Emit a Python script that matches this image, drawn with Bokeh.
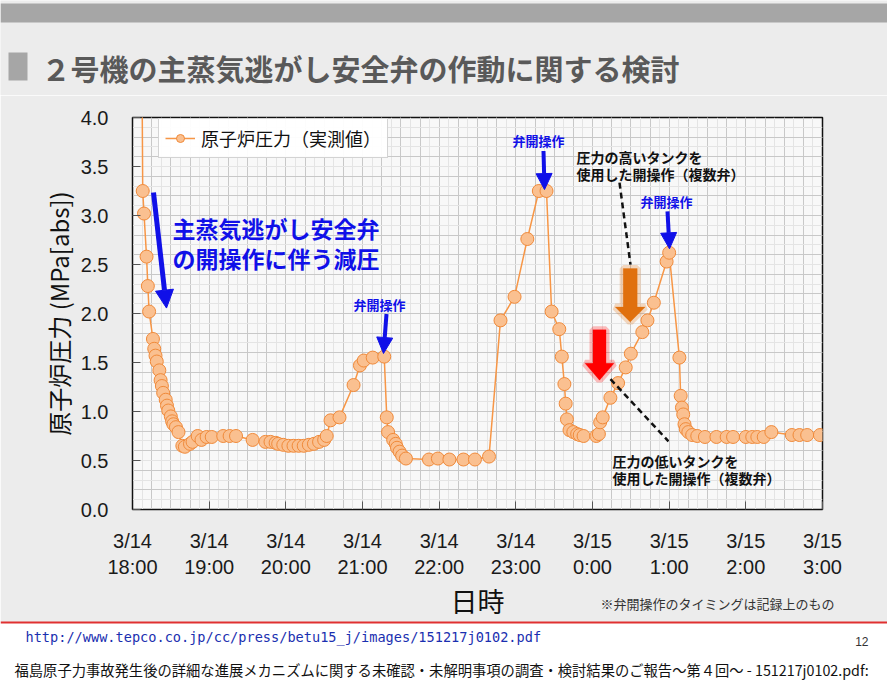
from bokeh.plotting import figure
from bokeh.layouts import column, row
from bokeh.core.properties import value
from bokeh.models import (ColumnDataSource, FixedTicker, NumeralTickFormatter, Label,
                          Arrow, NormalHead, PolyAnnotation, Legend, Range1d)
from bokeh.embed import file_html
from bokeh.resources import INLINE

# reactor pressure (measured), unit 2, 3/14 18:00 - 3/15 3:00
times = [
    "18:07", "18:08", "18:09", "18:11", "18:12", "18:13", "18:16", "18:17", "18:18", "18:19",
    "18:21", "18:22", "18:23", "18:24", "18:26", "18:27", "18:28", "18:30", "18:31", "18:32",
    "18:34", "18:36", "18:39", "18:41", "18:45", "18:47", "18:51", "18:54", "18:58", "19:02",
    "19:11", "19:16", "19:21", "19:34", "19:44", "19:48", "19:52", "19:54", "19:58", "20:02",
    "20:06", "20:10", "20:14", "20:18", "20:22", "20:26", "20:30", "20:32", "20:35", "20:42",
    "20:53", "20:58", "21:01", "21:08", "21:17", "21:19", "21:20", "21:24", "21:26", "21:27",
    "21:29", "21:31", "21:34", "21:52", "21:59", "22:08", "22:19", "22:28", "22:39", "22:48",
    "22:59", "23:09", "23:18", "23:24", "23:28", "23:34", "23:36", "23:38", "23:39", "23:40",
    "23:42", "23:45", "23:48", "23:50", "23:53", "0:03", "0:05", "0:06", "0:08", "0:14",
    "0:20", "0:26", "0:30", "0:39", "0:43", "0:48", "0:58", "1:00", "1:08", "1:09",
    "1:10", "1:11", "1:12", "1:13", "1:15", "1:18", "1:22", "1:28", "1:37", "1:45",
    "1:50", "2:00", "2:05", "2:09", "2:14", "2:20", "2:36", "2:42", "2:48", "2:58",
]
pressure = [
    5.40, 3.25, 3.02, 2.58, 2.28, 2.02, 1.74, 1.64, 1.57, 1.51,
    1.42, 1.32, 1.26, 1.19, 1.12, 1.06, 1.01, 0.95, 0.90, 0.87,
    0.84, 0.79, 0.65, 0.64, 0.67, 0.69, 0.75, 0.71, 0.74, 0.74,
    0.75, 0.75, 0.75, 0.71, 0.69, 0.69, 0.68, 0.67, 0.66, 0.65,
    0.65, 0.65, 0.65, 0.66, 0.67, 0.69, 0.71, 0.75, 0.91, 0.94,
    1.27, 1.47, 1.52, 1.55, 1.56, 0.94, 0.79, 0.71, 0.67, 0.63,
    0.59, 0.55, 0.52, 0.51, 0.52, 0.51, 0.51, 0.51, 0.54, 1.93,
    2.17, 2.76, 3.25, 3.25, 2.02, 1.84, 1.56, 1.28, 1.08, 0.92,
    0.81, 0.79, 0.77, 0.76, 0.75, 0.75, 0.77, 0.89, 0.94, 1.14,
    1.29, 1.45, 1.59, 1.81, 1.93, 2.11, 2.53, 2.62, 1.55, 1.16,
    1.04, 0.97, 0.87, 0.82, 0.79, 0.76, 0.75, 0.74, 0.74, 0.74,
    0.74, 0.74, 0.74, 0.74, 0.74, 0.79, 0.76, 0.76, 0.76, 0.76,
]
tick_dates = ["3/14", "3/14", "3/14", "3/14", "3/14", "3/14", "3/15", "3/15", "3/15", "3/15"]
tick_times = ["18:00", "19:00", "20:00", "21:00", "22:00", "23:00", "0:00", "1:00", "2:00", "3:00"]
y_ticks = [0.0, 0.5, 1.0, 1.5, 2.0, 2.5, 3.0, 3.5, 4.0]

slide_title = "２号機の主蒸気逃がし安全弁の作動に関する検討"
footnote = "※弁開操作のタイミングは記録上のもの"
source_url = "http://www.tepco.co.jp/cc/press/betu15_j/images/151217j0102.pdf"
page_no = "12"
doc_title = "福島原子力事故発生後の詳細な進展メカニズムに関する未確認・未解明事項の調査・検討結果のご報告～第４回～ - 151217j0102.pdf:"


def to_hours(t):
    h, m = map(int, t.split(":"))
    if h < 18:
        h += 24
    return h - 18 + m / 60


JP = "Noto Sans CJK JP"
BLUE = "#1010e8"
SLIDE_BG = "#ececec"
W = 887

# ---------------- header strip (slide title) ----------------
HH = 95
head = figure(width=W, height=HH, x_range=Range1d(0, W), y_range=Range1d(HH, 0),
              output_backend="svg", toolbar_location=None, min_border=0,
              x_axis_type=None, y_axis_type=None)
head.grid.visible = False
head.outline_line_color = None
head.background_fill_color = SLIDE_BG
head.border_fill_color = SLIDE_BG
head.quad(left=[0], right=[W], top=[3], bottom=[22], fill_color="#a6a6a6", line_color=None)
head.quad(left=[8], right=[27], top=[52], bottom=[80], fill_color="#a6a6a6", line_color=None)
head.text(x=[41], y=[67], text=[slide_title], text_font=value(JP), text_font_size="29px",
          text_font_style="bold", text_color="#595959", text_baseline="middle")

# ---------------- main chart ----------------
MH = 527                      # slide rows 95 .. 622
L, R, T, B = 132, 65, 22, 108
FW, FH = W - L - R, MH - T - B
PX_H = FW / 9.0               # px per hour
PX_Y = FH / 4.0               # px per MPa

source = ColumnDataSource(dict(x=[to_hours(t) for t in times], y=pressure))

p = figure(width=W, height=MH, x_range=Range1d(0, 9), y_range=Range1d(0, 4),
           output_backend="svg", toolbar_location=None,
           min_border_left=L, min_border_right=R, min_border_top=T, min_border_bottom=B)
p.border_fill_color = SLIDE_BG
p.background_fill_color = "#f8f8f8"
p.outline_line_color = "#111111"
p.outline_line_width = 1.5

line_r = p.line("x", "y", source=source, line_color="#f79646", line_width=1.5)
dot_r = p.scatter("x", "y", source=source, size=13, fill_color="#fac090",
                  line_color="#f08a3a", line_width=1)

p.xaxis.ticker = FixedTicker(ticks=list(range(10)))
p.xaxis.major_label_overrides = {i: f"{d}\n{t}" for i, (d, t) in enumerate(zip(tick_dates, tick_times))}
p.yaxis.ticker = FixedTicker(ticks=y_ticks)
p.yaxis.formatter = NumeralTickFormatter(format="0.0")
for ax in (p.xaxis, p.yaxis):
    ax.major_label_text_font = "Liberation Sans"
    ax.major_label_text_font_size = "20px"
    ax.major_label_text_color = "#1a1a1a"
    ax.axis_line_color = "#111111"
    ax.major_tick_in = 8
    ax.major_tick_out = 0
    ax.minor_tick_line_color = None
    ax.major_tick_line_color = "#555555"
    ax.axis_label_text_font = JP
    ax.axis_label_text_font_style = "normal"
    ax.axis_label_text_color = "#111111"
p.xaxis.major_label_standoff = 20
p.yaxis.major_label_standoff = 24
p.xaxis.axis_label = "日時"
p.xaxis.axis_label_text_font_size = "27px"
p.xaxis.axis_label_standoff = 0
p.yaxis.axis_label = "原子炉圧力 (MPa[abs])"
p.yaxis.axis_label_text_font_size = "24px"
p.yaxis.axis_label_standoff = 2

# graph-paper grid
p.ygrid.ticker = FixedTicker(ticks=[i * 0.2 for i in range(21)],
                             minor_ticks=[i * 0.1 for i in range(41)])
p.xgrid.ticker = FixedTicker(ticks=[i * 0.25 for i in range(37)],
                             minor_ticks=[i * 0.125 for i in range(73)])
for g in (p.xgrid, p.ygrid):
    g.grid_line_color = "#c8c8c8"
    g.minor_grid_line_color = "#e4e4e4"

legend = Legend(items=[("原子炉圧力（実測値）", [line_r, dot_r])], location=(26, 351),
                label_text_font=JP, label_text_font_size="18px", label_text_color="#111111",
                border_line_color="#a8a8a8", background_fill_color="white",
                glyph_width=30, glyph_height=20, padding=6, margin=0, label_standoff=6)
p.add_layout(legend)


# annotation helpers: slide pixel -> data
def px2h(px):
    return (px - L) / PX_H


def px2y(py):
    return (514 - py) / PX_Y


def blue_arrow(x0, y0, x1, y1, w=4, size=16):
    p.add_layout(Arrow(end=NormalHead(size=size, fill_color=BLUE, line_color=BLUE),
                       x_start=x0, y_start=y0, x_end=x1, y_end=y1,
                       line_color=BLUE, line_width=w))


def block_arrow(xc, y_top, y_tip, shaft_px, head_px, head_len_px, color):
    hw = shaft_px / 2 / PX_H
    hh = head_px / 2 / PX_H
    yb = y_tip + head_len_px / PX_Y
    xs = [xc - hw, xc + hw, xc + hw, xc + hh, xc, xc - hh, xc - hw]
    ys = [y_top, y_top, yb, yb, y_tip, yb, yb]
    p.add_layout(PolyAnnotation(xs=xs, ys=ys, fill_color=None, line_color=color,
                                line_alpha=0.25, line_width=7))
    p.add_layout(PolyAnnotation(xs=xs, ys=ys, fill_color=color, fill_alpha=1,
                                line_color=color, line_width=1))


def note(x, y, text, size, color, align="left", baseline="top", lh=0.82):
    p.add_layout(Label(x=x, y=y, text=text, text_font=JP, text_font_size=size,
                       text_font_style="bold", text_color=color, text_align=align,
                       text_baseline=baseline, text_line_height=lh))


blue_arrow(px2h(153), px2y(193), px2h(166), px2y(310), w=5, size=18)
note(px2h(172), px2y(212), "主蒸気逃がし安全弁\nの開操作に伴う減圧", "23px", BLUE, lh=0.86)

note(px2h(379), px2y(306), "弁開操作", "13px", BLUE, align="center", baseline="middle")
blue_arrow(px2h(386), px2y(316), px2h(383), px2y(356))
note(px2h(538), px2y(140), "弁開操作", "13px", BLUE, align="center", baseline="middle")
blue_arrow(px2h(543), px2y(151), px2h(544), px2y(190))
note(px2h(666), px2y(202), "弁開操作", "13px", BLUE, align="center", baseline="middle")
blue_arrow(px2h(667), px2y(212), px2h(669), px2y(250))

note(px2h(576), px2y(147), "圧力の高いタンクを\n使用した開操作（複数弁）", "14px", "#111111")
p.add_layout(Arrow(end=None, x_start=px2h(619), y_start=px2y(183), x_end=px2h(630), y_end=px2y(266),
                   line_color="#111111", line_width=2.5, line_dash="6 4"))
block_arrow(px2h(629.7), px2y(270), px2y(324), 14, 30, 15, "#e0700e")

block_arrow(px2h(599), px2y(332), px2y(383), 13, 29, 17, "#ff0000")
p.add_layout(Arrow(end=None, x_start=px2h(610), y_start=px2y(382), x_end=px2h(668), y_end=px2y(445),
                   line_color="#111111", line_width=2.5, line_dash="6 4"))
note(px2h(612), px2y(455), "圧力の低いタンクを\n使用した開操作（複数弁）", "14px", "#111111")

# ---------------- footer (overlaps the chart's bottom border, transparent top) ----------------
FOOT_Y0 = 590
FH2 = 686 - FOOT_Y0
foot = figure(width=W, height=FH2, x_range=Range1d(0, W), y_range=Range1d(FH2, 0),
              output_backend="svg", toolbar_location=None, min_border=0,
              x_axis_type=None, y_axis_type=None)
foot.grid.visible = False
foot.outline_line_color = None
foot.background_fill_alpha = 0
foot.border_fill_alpha = 0
foot.quad(left=[0], right=[W], top=[623 - FOOT_Y0], bottom=[FH2], fill_color="white", line_color=None)
foot.quad(left=[0], right=[W], top=[621 - FOOT_Y0], bottom=[623 - FOOT_Y0],
          fill_color="#e03030", line_color=None)
foot.text(x=[600], y=[603 - FOOT_Y0], text=[footnote], text_font=value(JP), text_font_size="13px",
          text_color="#333333", text_baseline="middle")
foot.text(x=[25], y=[636 - FOOT_Y0], text=[source_url], text_font=value("DejaVu Sans Mono"),
          text_font_size="13.6px", text_color="#1a2fb0", text_baseline="middle")
foot.text(x=[868], y=[641 - FOOT_Y0], text=[page_no], text_font=value("Liberation Sans"),
          text_font_size="12px", text_color="#333333", text_baseline="middle", text_align="right")
foot.text(x=[14], y=[669 - FOOT_Y0], text=[doc_title], text_font=value(JP), text_font_size="14.3px",
          text_color="#111111", text_baseline="middle")

layout = column(row(head), p, row(foot, styles={"margin-top": f"-{622 - FOOT_Y0}px"}), spacing=0)
open("out.html", "w").write(file_html(layout, INLINE))
